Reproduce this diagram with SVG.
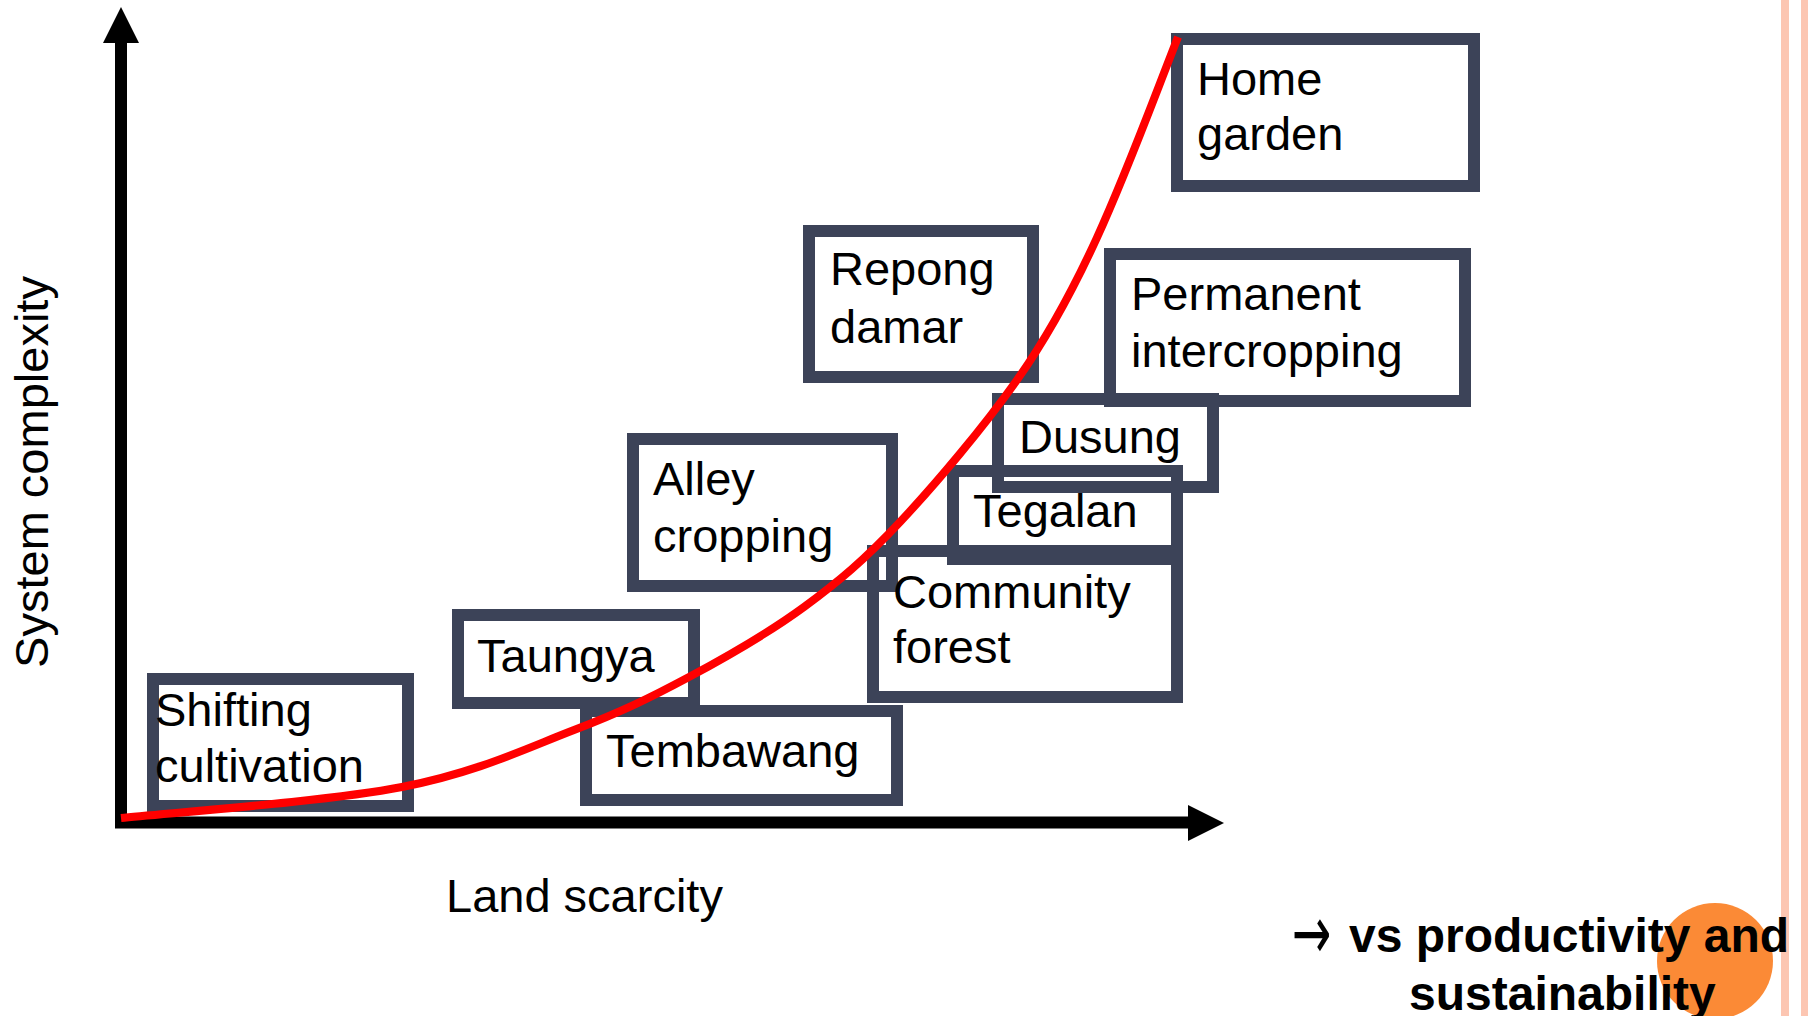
<svg xmlns="http://www.w3.org/2000/svg" width="1808" height="1016" viewBox="0 0 1808 1016">
  <style>
    .box { fill: none; stroke: #3c4358; stroke-width: 12; }
    .lbl { font-family: "Liberation Sans", Arial, sans-serif; font-size: 47px; fill: #000; }
    .axis { fill: none; stroke: #000; stroke-width: 12; }
    .head { fill: #000; }
    .note { font-family: "Liberation Sans", Arial, sans-serif; font-size: 48px; font-weight: bold; fill: #000; }
  </style>

  <rect width="1808" height="1016" fill="#ffffff"/>

  <!-- side rules -->
  <rect x="1781" y="0" width="8" height="1016" fill="#fcc6b2"/>
  <rect x="1801" y="0" width="7" height="1016" fill="#fcc6b2"/>

  <!-- axes -->
  <g id="axes">
    <line class="axis" x1="121" y1="40" x2="121" y2="828"/>
    <polygon class="head" points="121,7 139,43 103,43"/>
    <line class="axis" x1="115" y1="822.5" x2="1190" y2="822.5"/>
    <polygon class="head" points="1224,823 1188,805 1188,841"/>
    <text class="lbl" x="446" y="912">Land scarcity</text>
    <text class="lbl" text-anchor="middle" transform="translate(48,472) rotate(-90)">System complexity</text>
  </g>

  <!-- systems -->
  <g id="shifting-cultivation">
    <rect class="box" x="153" y="679" width="255" height="127"/>
    <text class="lbl" x="155" y="726">Shifting</text>
    <text class="lbl" x="155" y="782">cultivation</text>
  </g>
  <g id="taungya">
    <rect class="box" x="458" y="615" width="236" height="88"/>
    <text class="lbl" x="477" y="672">Taungya</text>
  </g>
  <g id="tembawang">
    <rect class="box" x="586" y="711" width="311" height="89"/>
    <text class="lbl" x="606" y="767">Tembawang</text>
  </g>
  <g id="alley-cropping">
    <rect class="box" x="633" y="439" width="259" height="147"/>
    <text class="lbl" x="653" y="495">Alley</text>
    <text class="lbl" x="653" y="552">cropping</text>
  </g>
  <g id="community-forest">
    <rect class="box" x="873" y="551" width="304" height="146"/>
    <text class="lbl" x="893" y="608">Community</text>
    <text class="lbl" x="893" y="663">forest</text>
  </g>
  <g id="tegalan">
    <rect class="box" x="953" y="471" width="224" height="88"/>
    <text class="lbl" x="973" y="527">Tegalan</text>
  </g>
  <g id="dusung">
    <rect class="box" x="998" y="399" width="215" height="88"/>
    <text class="lbl" x="1019" y="453">Dusung</text>
  </g>
  <g id="repong-damar">
    <rect class="box" x="809" y="231" width="224" height="146"/>
    <text class="lbl" x="830" y="285">Repong</text>
    <text class="lbl" x="830" y="343">damar</text>
  </g>
  <g id="permanent-intercropping">
    <rect class="box" x="1110" y="254" width="355" height="147"/>
    <text class="lbl" x="1131" y="310">Permanent</text>
    <text class="lbl" x="1131" y="367">intercropping</text>
  </g>
  <g id="home-garden">
    <rect class="box" x="1177" y="39" width="297" height="147"/>
    <text class="lbl" x="1197" y="95">Home</text>
    <text class="lbl" x="1197" y="150">garden</text>
  </g>

  <!-- complexity curve -->
  <g id="connectors">
    <path fill="none" stroke="#ff0000" stroke-width="8" stroke-linecap="butt"
          d="M121,818 C168,813 326.5,801.7 402,787 C477.5,772.3 526.2,748.3 574,730 C621.8,711.7 650.7,697.5 689,677 C727.3,656.5 768.8,632.8 804,607 C839.2,581.2 864.5,559.8 900,522 C935.5,484.2 982.8,428.2 1017,380 C1090,277 1132,154 1178,37"/>
  </g>

  <!-- closing remark -->
  <g id="remark">
    <circle cx="1715" cy="961" r="58" fill="#fb8a36"/>
    <text font-family="DejaVu Sans, sans-serif" font-size="47" transform="translate(1292,959) scale(1,1.6)">→</text>
    <text class="note" x="1349" y="952">vs productivity and</text>
    <text class="note" x="1409" y="1010">sustainability</text>
  </g>
</svg>
